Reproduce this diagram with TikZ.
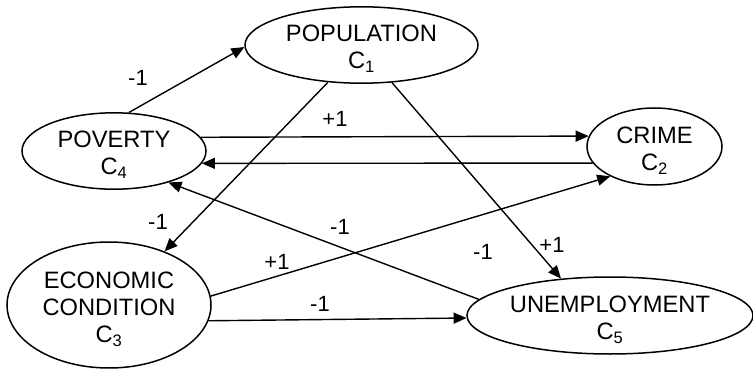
\documentclass[tikz,border=0pt]{standalone}
\usepackage{fontspec}
\setmainfont{Liberation Sans}
\usetikzlibrary{arrows.meta,shapes.geometric}
\tikzset{
  px/.style={x=1pt, y=-1pt},                      % work in pixels, y downwards
  concept/.style={ellipse, draw=black, line width=1.5pt, inner sep=0pt,
    font=\fontsize{23.7}{27}\selectfont},
  link/.style={black, line width=1.4pt, -{Triangle[length=13pt,width=11pt]}},
  sign/.style={inner sep=0pt, font=\fontsize{22}{24}\selectfont},   % +1 / -1 weights
}
% concept text, set a little below the middle of its ellipse
\newcommand\ctext[1]{\raisebox{-5pt}[\height][\depth]{\begin{tabular}{@{}c@{}}#1\end{tabular}}}
\begin{document}
\begin{tikzpicture}[px]
  \useasboundingbox (0,0) rectangle (753,369);

  % --- concepts C1..C5 ---
  \node[concept, minimum width=233pt, minimum height=76pt]  (pop)   at (361.5,45)  {\ctext{POPULATION\\C\textsubscript{1}}};
  \node[concept, minimum width=135pt, minimum height=77pt]  (crime) at (654.5,146.5) {\ctext{CRIME\\C\textsubscript{2}}};
  \node[concept, minimum width=204pt, minimum height=126pt] (econ)  at (109,305)   {\ctext{ECONOMIC\\CONDITION\\C\textsubscript{3}}};
  \node[concept, minimum width=184pt, minimum height=74pt]  (pov)   at (114,151)   {\ctext{POVERTY\\C\textsubscript{4}}};
  \node[concept, minimum width=286pt, minimum height=77pt]  (unemp) at (610,315.5) {\ctext{UNEMPLOYMENT\\C\textsubscript{5}}};

  % --- causal links ---
  \draw[link] (pov.69.3)    -- (pop.181);
  \draw[link] (pov.9.3)     -- (crime.171.7);
  \draw[link] (crime.195.1) -- (pov.352.2);
  \draw[link] (pop.228.6)   -- (econ.44.5);
  \draw[link] (pop.309.7)   -- (unemp.143.5);
  \draw[link] (unemp.173.2) -- (pov.330.3);
  \draw[link] (econ.5.6)    -- (crime.214);
  \draw[link] (econ.351.4)  -- (unemp.181.8);

  % --- weights ---
  \node[sign] (w41) at (138,78)  {-1};
  \node[sign] (w42) at (335,119) {+1};
  \node[sign] (w13) at (158,222) {-1};
  \node[sign] (w15) at (552,245) {+1};
  \node[sign] (w54) at (340,227) {-1};
  \node[sign] (w5x) at (483,252) {-1};
  \node[sign] (w32) at (277,262) {+1};
  \node[sign] (w35) at (320,304) {-1};
\end{tikzpicture}
\end{document}
